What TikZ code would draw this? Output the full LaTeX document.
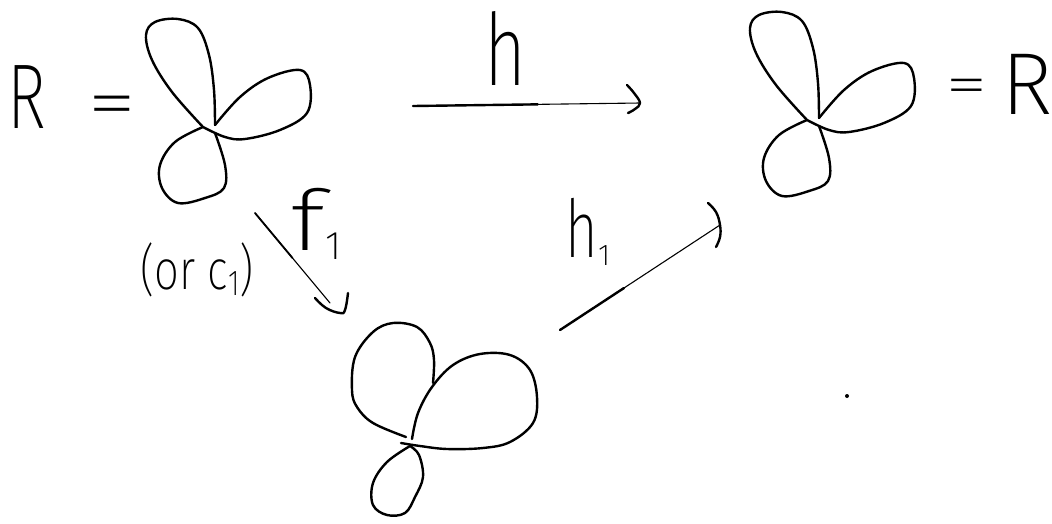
\documentclass[tikz,border=0pt]{standalone}
\usepackage{fontspec}
\setmainfont{Fira Sans ExtraLight}
\usepackage{graphicx}
\usepackage{tikz}
\usetikzlibrary{calc}
\tikzset{
    pen/.style={line width=2.4pt, line cap=round, line join=round, black},
    thinpen/.style={line width=1.1pt, line cap=round, black},
    hand/.style={inner sep=0pt, font=\fontsize{#1}{#1}\selectfont},
}
\newcommand{\lowsub}[2]{\raisebox{-0.1em}{\fontsize{#1}{#1}\selectfont #2}}
\begin{document}
\begin{tikzpicture}[x=1pt, y=-1pt]
    \useasboundingbox (0,0) rectangle (1052,523);
    % upper two flowers
    \foreach \sx/\sy in {0/0,604/-7} {
        \begin{scope}[shift={(\sx,\sy)}]
            \draw[pen] plot[smooth, tension=0.6] coordinates {(203,127) (172,92) (152,60) (146,35) (155,22) (178,19) (198,28) (209,55) (214,90) (215,125)};
            \draw[pen] plot[smooth, tension=0.6] coordinates {(215,125) (240,97) (268,78) (300,70) (310,85) (307,113) (280,130) (245,139) (225,137) (203,127)};
            \draw[pen] plot[smooth, tension=0.6] coordinates {(203,127) (175,142) (160,165) (162,188) (178,203) (205,198) (224,188) (225,165) (215,133)};
        \end{scope}
    }
    % lower flower
    \draw[pen] plot[smooth, tension=0.6] coordinates {(406,437) (373,423) (357,407) (352,390) (355,357) (373,332) (393,323) (417,327) (430,343) (434,360) (433,383)};
    \draw[pen] plot[smooth, tension=0.6] coordinates {(412,439) (418,413) (432,387) (453,365) (480,354) (510,355) (530,370) (537,397) (533,423) (510,442) (483,448) (447,449) (420,446) (401,443)};
    \draw[pen] plot[smooth, tension=0.6] coordinates {(410,446) (387,462) (373,483) (373,505) (387,515) (405,513) (415,497) (423,477) (419,455) (410,446)};
    % connectors
    \coordinate (hStart) at (413,106);
    \coordinate (hEnd) at (640,103);
    \coordinate (fStart) at (255,213);
    \coordinate (fEnd) at (330,303);
    \coordinate (hOneStart) at (560,330);
    \coordinate (hOneEnd) at (720,225);
    \draw[thinpen] (hStart) -- (hEnd);
    \draw[thinpen] (fStart) -- (fEnd);
    \draw[thinpen] (hOneStart) -- (hOneEnd);
    \draw[pen] (hStart) -- ($(hStart)!0.55!(hEnd)$);
    \draw[pen, line width=1.8pt] (fStart) -- ($(fStart)!0.5!(fEnd)$);
    \draw[pen] (hOneStart) -- ($(hOneStart)!0.4!(hOneEnd)$);
    % arrow heads
    \draw[pen] plot[smooth, tension=0.7] coordinates {(627,85) (634,93) (640,103) (635,109) (628,113)};
    \draw[pen] plot[smooth, tension=0.7] coordinates {(315,298) (326,308) (340,313) (345,310) (348,293)};
    \draw[pen] plot[smooth, tension=0.7] coordinates {(708,203) (716,212) (720,225) (720,237) (716,247)};
    % stray dot
    \fill (847,396) circle (2pt);
    % labels
    \node[hand=92] (leftR) at (27,97) {\scalebox{0.72}[1]{R}};
    \node[hand=72] (leftEq) at (112,112) {\scalebox{1.4}[1]{=}};
    \node[hand=100] (hLabel) at (505,48) {\scalebox{0.72}[1]{h}};
    \node[hand=84] (fLabel) at (316,224) {\scalebox{1.3}[1]{f}\lowsub{40}{1}};
    \node[hand=56] (orLabel) at (197,270) {\scalebox{0.78}[1]{(or c\lowsub{36}{1})}};
    \node[hand=80] (hOneLabel) at (588,232) {\scalebox{0.7}[1]{h}\lowsub{30}{1}};
    \node[hand=58] (rightEq) at (967,92) {\scalebox{1.5}[1]{=}};
    \node[hand=88] (rightR) at (1027,84) {R};
\end{tikzpicture}
\end{document}
